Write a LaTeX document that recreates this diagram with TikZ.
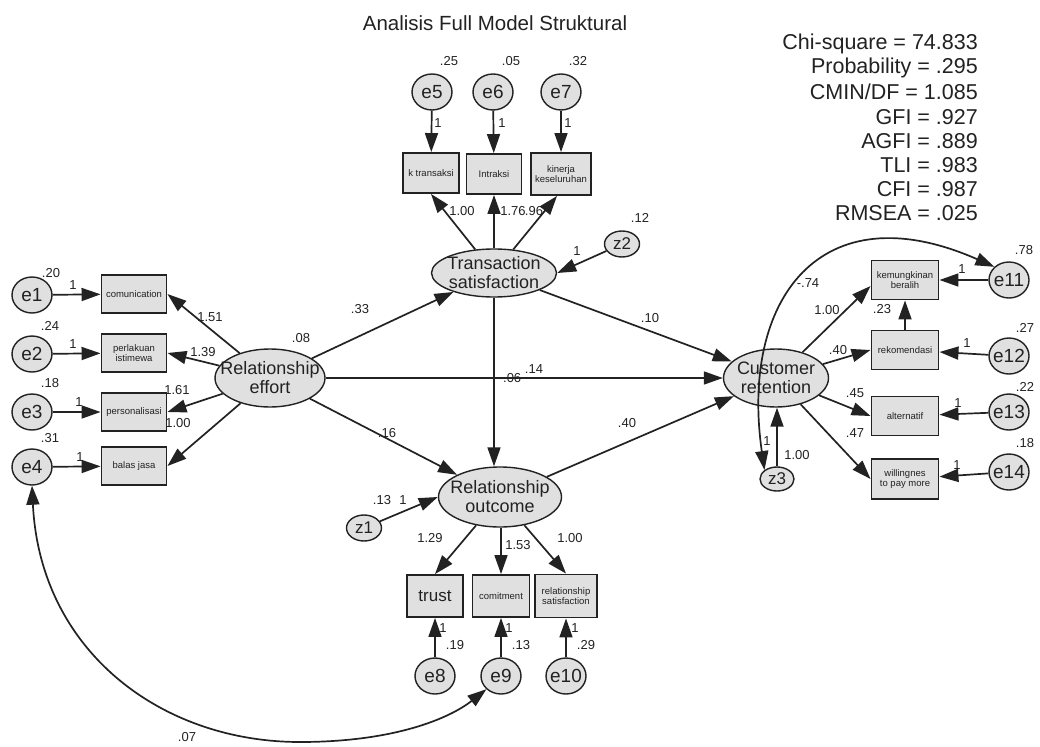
\documentclass[tikz,border=0pt]{standalone}
\usepackage{fontspec}
\setmainfont{Liberation Sans}
\usetikzlibrary{shapes.geometric,arrows.meta,calc}
\definecolor{ink}{HTML}{222222}
\definecolor{nfill}{HTML}{E0E0E0}
\tikzset{
 lat/.style={ellipse, draw=ink, line width=1.4pt, fill=nfill, inner xsep=-40pt, inner ysep=-15pt, align=center, text=ink, font=\fontsize{18}{19}\selectfont},
 err/.style={ellipse, draw=ink, line width=1.4pt, fill=nfill, inner sep=-5pt, minimum width=40pt, minimum height=36pt, text=ink, font=\fontsize{19}{19}\selectfont},
 dist/.style={ellipse, draw=ink, line width=1.4pt, fill=nfill, inner sep=-3pt, minimum width=35pt, minimum height=26pt, text=ink, font=\fontsize{17}{17}\selectfont},
 obs/.style={rectangle, draw=ink, line width=1.9pt, fill=nfill, inner sep=1pt, align=center, text=ink, font=\fontsize{9.5}{10}\selectfont},
 lab/.style={inner sep=0pt, text=ink, font=\fontsize{13}{13}\selectfont},
 stat/.style={inner sep=0pt, anchor=east, text=ink, font=\fontsize{21.5}{22}\selectfont},
 arr/.style={draw=ink, line width=1.7pt, -{Triangle[length=19pt,width=13pt]}},
 cov/.style={draw=ink, line width=1.7pt, {Triangle[length=19pt,width=13pt]}-{Triangle[length=19pt,width=13pt]}},
}
\begin{document}
\begin{tikzpicture}[x=1pt,y=-1pt]
\useasboundingbox[fill=white] (0,0) rectangle (1040,746);

% title and fit statistics
\node[inner sep=0pt, text=ink, font=\fontsize{20.5}{21}\selectfont] (title) at (495,23) {Analisis Full Model Struktural};
\node[stat] (s1) at (978,44) {Chi-square = 74.833};
\node[stat] (s2) at (978,68) {Probability = .295};
\node[stat] (s3) at (978,92) {CMIN/DF = 1.085};
\node[stat] (s4) at (978,117) {GFI = .927};
\node[stat] (s5) at (978,141) {AGFI = .889};
\node[stat] (s6) at (978,165) {TLI = .983};
\node[stat] (s7) at (978,189) {CFI = .987};
\node[stat] (s8) at (978,213) {RMSEA = .025};

% latent variables
\node[lat, minimum width=110pt, minimum height=58pt] (RE) at (270,378) {Relationship\\effort};
\node[lat, minimum width=125pt, minimum height=48pt] (TS) at (494,273) {Transaction\\satisfaction};
\node[lat, minimum width=123pt, minimum height=60pt] (RO) at (500,497) {Relationship\\outcome};
\node[lat, minimum width=105pt, minimum height=58pt] (CR) at (776,378) {Customer\\retention};

% observed variables
\node[obs, minimum width=65pt, minimum height=38pt] (b1) at (134,294) {comunication};
\node[obs, minimum width=65pt, minimum height=38pt] (b2) at (134,353) {perlakuan\\istimewa};
\node[obs, minimum width=65pt, minimum height=38pt] (b3) at (134,412) {personalisasi};
\node[obs, minimum width=65pt, minimum height=38pt] (b4) at (134,466) {balas jasa};
\node[obs, minimum width=56pt, minimum height=40pt] (b5) at (431,173) {k transaksi};
\node[obs, minimum width=55pt, minimum height=40pt] (b6) at (494,174) {Intraksi};
\node[obs, minimum width=60pt, minimum height=42pt] (b7) at (561,174) {kinerja\\keseluruhan};
\node[obs, minimum width=56pt, minimum height=42pt, font=\fontsize{17}{17}\selectfont] (b8) at (435,596) {trust};
\node[obs, minimum width=57pt, minimum height=42pt] (b9) at (501,596) {comitment};
\node[obs, minimum width=62pt, minimum height=43pt] (b10) at (566,596) {relationship\\satisfaction};
\node[obs, minimum width=67pt, minimum height=39pt] (b11) at (905,280) {kemungkinan\\beralih};
\node[obs, minimum width=67pt, minimum height=39pt] (b12) at (905,350) {rekomendasi};
\node[obs, minimum width=67pt, minimum height=39pt] (b13) at (905,416) {alternatif};
\node[obs, minimum width=67pt, minimum height=40pt] (b14) at (905,479) {willingnes\\to pay more};

% error terms
\node[err] (e1) at (32,295) {e1};
\node[err] (e2) at (32,354) {e2};
\node[err] (e3) at (32,412) {e3};
\node[err] (e4) at (32,467) {e4};
\node[err] (e5) at (432,92) {e5};
\node[err] (e6) at (493,92) {e6};
\node[err] (e7) at (561,92) {e7};
\node[err] (e8) at (435,676) {e8};
\node[err] (e9) at (501,676) {e9};
\node[err] (e10) at (566,676) {e10};
\node[err] (e11) at (1009,280) {e11};
\node[err] (e12) at (1009,356) {e12};
\node[err] (e13) at (1009,412) {e13};
\node[err] (e14) at (1009,472) {e14};
\node[dist] (z1) at (364,528) {z1};
\node[dist] (z2) at (622,244) {z2};
\node[dist, minimum width=34pt, minimum height=24pt] (z3) at (777,479) {z3};

% error -> indicator
\foreach \i in {1,...,14} {\draw[arr] (e\i) -- (b\i);}

% loadings
\draw[arr] (RE) -- (b1.east);
\draw[arr] (RE) -- (b2.east);
\draw[arr] (RE) -- (b3.east);
\draw[arr] (RE) -- (b4.east);
\draw[arr] (TS) -- (b5.south);
\draw[arr] (TS.north -| b6.south) -- (b6.south);
\draw[arr] (TS) -- ($(b7.south)+(-4,0)$);
\draw[arr] (RO) -- (b8.north);
\draw[arr] (RO.south -| b9.north) -- (b9.north);
\draw[arr] (RO) -- (b10.north);
\draw[arr] (CR) -- ($(b11.west)+(0,6)$);
\draw[arr] (CR) -- (b12.west);
\draw[arr] (CR) -- (b13.west);
\draw[arr] (CR) -- (b14.west);
\draw[arr] (b12.north) -- (b11.south);

% structural paths
\draw[arr] (RE) -- (TS);
\draw[arr] (RE) -- (CR);
\draw[arr] (RE) -- (RO);
\draw[arr] (TS) -- (CR);
\draw[arr] (TS.south) -- (TS.south |- RO.north);
\draw[arr] (RO) -- (CR);
\draw[arr] (z1) -- (RO.west);
\draw[arr] (z2) -- (TS.east);
\draw[arr] (z3.north) -- (z3.north |- CR.south);

% covariances
\draw[cov] (e4.south) .. controls (40,650) and (160,742) .. (300,742) .. controls (395,742) and (450,718) .. (e9.south west);
\draw[cov] (z3.north west) .. controls (740,300) and (820,190) .. (e11.north west);

% variance labels
\node[lab] (v5) at (449,61) {.25};
\node[lab] (v6) at (511,61) {.05};
\node[lab] (v7) at (578,61) {.32};
\node[lab] (v1) at (51,273) {.20};
\node[lab] (v2) at (50,326) {.24};
\node[lab] (v3) at (50,383) {.18};
\node[lab] (v4) at (50,438) {.31};
\node[lab] (vz2) at (640,218) {.12};
\node[lab] (vre) at (301,338) {.08};
\node[lab] (vz1) at (382,500) {.13};
\node[lab] (v8) at (455,645) {.19};
\node[lab] (v9) at (521,645) {.13};
\node[lab] (v10) at (586,645) {.29};
\node[lab] (v11) at (1024,250) {.78};
\node[lab] (v12) at (1025,328) {.27};
\node[lab] (v13) at (1025,387) {.22};
\node[lab] (v14) at (1025,443) {.18};

% fixed weights
\node[lab] (w5) at (438,123) {1};
\node[lab] (w6) at (502,123) {1};
\node[lab] (w7) at (568,123) {1};
\node[lab] (w1) at (73,285) {1};
\node[lab] (w2) at (73,344) {1};
\node[lab] (w3) at (79,402) {1};
\node[lab] (w4) at (80,457) {1};
\node[lab] (wz2) at (577,251) {1};
\node[lab] (wz1) at (403,500) {1};
\node[lab] (w8) at (443,628) {1};
\node[lab] (w9) at (509,628) {1};
\node[lab] (w10) at (575,628) {1};
\node[lab] (w11) at (962,269) {1};
\node[lab] (w12) at (967,343) {1};
\node[lab] (w13) at (958,403) {1};
\node[lab] (w14) at (957,465) {1};
\node[lab] (wz3) at (767,441) {1};

% estimates
\node[lab] (l51) at (462,211) {1.00};
\node[lab] (l61) at (513,211) {1.76};
\node[lab] (l71) at (534,211) {.96};
\node[lab] (l1) at (210,317) {1.51};
\node[lab] (l2) at (203,352) {1.39};
\node[lab] (l3) at (177,390) {1.61};
\node[lab] (l4) at (178,423) {1.00};
\node[lab] (p1) at (360,309) {.33};
\node[lab] (p2) at (510,378) {-.06};
\node[lab] (p3) at (534,369) {.14};
\node[lab] (p4) at (650,318) {.10};
\node[lab] (p5) at (627,423) {.40};
\node[lab] (p6) at (387,433) {.16};
\node[lab] (l8) at (430,538) {1.29};
\node[lab] (l9) at (518,545) {1.53};
\node[lab] (l10) at (570,538) {1.00};
\node[lab] (c1) at (187,737) {.07};
\node[lab] (c2) at (808,283) {-.74};
\node[lab] (l11) at (827,310) {1.00};
\node[lab] (l1211) at (882,309) {.23};
\node[lab] (l12) at (838,350) {.40};
\node[lab] (l13) at (855,393) {.45};
\node[lab] (l14) at (855,433) {.47};
\node[lab] (lz3) at (797,455) {1.00};
\end{tikzpicture}
\end{document}
